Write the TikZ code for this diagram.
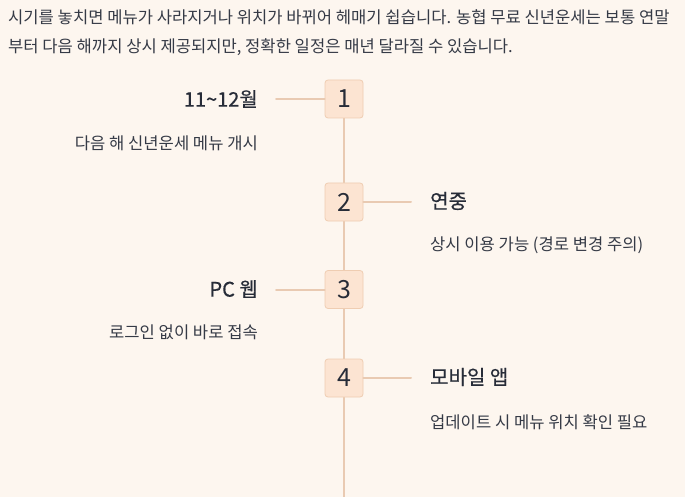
\documentclass[tikz,border=0pt]{standalone}
\usepackage{fontspec}
\setmainfont{Noto Sans CJK KR}
\newfontfamily\titlefont[FakeBold=0.5]{Noto Sans CJK KR}

\definecolor{bgcream}{HTML}{FDF6EF}
\definecolor{boxfill}{HTML}{FCE4D2}
\definecolor{boxline}{HTML}{EFCDB2}
\definecolor{spinecol}{HTML}{E9CAB2}
\definecolor{inkdark}{HTML}{272C38}
\definecolor{inkgrey}{HTML}{353A46}

\tikzset{
  numbox/.style={draw=boxline,fill=boxfill,rounded corners=3pt,line width=0.8pt,
    minimum width=38pt,minimum height=38pt,inner sep=0pt,text=inkdark,
    font=\fontsize{25}{27}\selectfont},
  spine/.style={draw=spinecol,line width=2pt},
  link/.style={draw=spinecol,line width=2pt},
  title/.style={text=inkdark,inner sep=0pt,font=\titlefont\fontsize{20}{22}\selectfont},
  desc/.style={text=inkgrey,inner sep=0pt,font=\fontsize{16.6}{19}\selectfont},
  intro/.style={text=inkgrey,inner sep=0pt,anchor=base west,font=\fontsize{16.6}{19}\selectfont}
}

\begin{document}
\begin{tikzpicture}[x=1pt,y=-1pt,line cap=round]
\path[use as bounding box,fill=bgcream] (0,0) rectangle (685,497);
\node[intro] (intro1) at (8,24) {시기를 놓치면 메뉴가 사라지거나 위치가 바뀌어 헤매기 쉽습니다. 농협 무료 신년운세는 보통 연말};
\node[intro] (intro2) at (8,53) {부터 다음 해까지 상시 제공되지만, 정확한 일정은 매년 달라질 수 있습니다.};
\coordinate (spineend) at (344,497);
\coordinate (c1) at (276,99);
\coordinate (c2) at (411,202);
\coordinate (c3) at (276,289.5);
\coordinate (c4) at (411,378);
\draw[spine] (344,118) -- (spineend);
\node[numbox] (n1) at (344,99) {1};
\node[numbox] (n2) at (344,202) {2};
\node[numbox] (n3) at (344,289.5) {3};
\node[numbox] (n4) at (344,378) {4};
\draw[link] (n1.west) -- (c1);
\draw[link] (n2.east) -- (c2);
\draw[link] (n3.west) -- (c3);
\draw[link] (n4.east) -- (c4);
\node[title,anchor=east] (t1) at (258,99) {11\textasciitilde12월};
\node[desc,anchor=east] (d1) at (258,143) {다음 해 신년운세 메뉴 개시};
\node[title,anchor=west] (t2) at (430,201) {연중};
\node[desc,anchor=west] (d2) at (430,245) {상시 이용 가능 (경로 변경 주의)};
\node[title,anchor=east] (t3) at (258,289) {PC 웹};
\node[desc,anchor=east] (d3) at (258,332) {로그인 없이 바로 접속};
\node[title,anchor=west] (t4) at (430,377) {모바일 앱};
\node[desc,anchor=west] (d4) at (430,422) {업데이트 시 메뉴 위치 확인 필요};
\end{tikzpicture}
\end{document}
